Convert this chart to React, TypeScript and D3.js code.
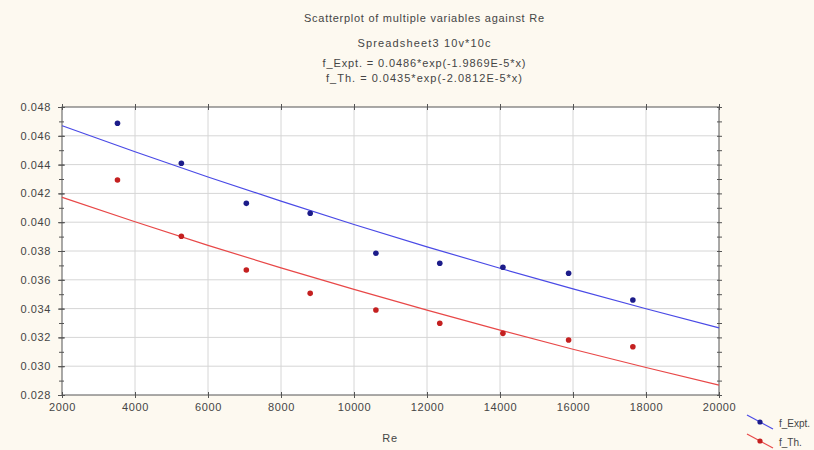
import React, { useEffect, useRef } from 'react';
import * as d3 from 'd3';

// Re values of the measured points
const re = [3520, 5270, 7050, 8800, 10600, 12350, 14080, 15880, 17640];
// measured friction factors
const fExpt = [0.04687, 0.04409, 0.04131, 0.04062, 0.03784, 0.03715, 0.03687, 0.03645, 0.0346];
const fTh = [0.04293, 0.03902, 0.03668, 0.03506, 0.0339, 0.03298, 0.03228, 0.03182, 0.03135];

// fitted curves read at the x ticks
const fitRe = [2000, 4000, 6000, 8000, 10000, 12000, 14000, 16000, 18000, 20000];
const fitExpt = [0.0467, 0.04489, 0.04314, 0.04146, 0.03984, 0.03829, 0.0368, 0.03537, 0.03399, 0.03266];
const fitTh = [0.04173, 0.04003, 0.03839, 0.03683, 0.03533, 0.03389, 0.03251, 0.03118, 0.02991, 0.02869];

const xTicks = [2000, 4000, 6000, 8000, 10000, 12000, 14000, 16000, 18000, 20000];
const yTicks = [0.028, 0.03, 0.032, 0.034, 0.036, 0.038, 0.04, 0.042, 0.044, 0.046, 0.048];

const titleLines = [
  'Scatterplot of multiple variables against Re',
  'Spreadsheet3 10v*10c',
  'f_Expt. = 0.0486*exp(-1.9869E-5*x)',
  'f_Th. = 0.0435*exp(-2.0812E-5*x)',
];
const seriesNames = ['f_Expt.', 'f_Th.'];

const App = () => {
  const ref = useRef(null);

  useEffect(() => {
    const W = 814;
    const H = 450;
    const margin = { top: 107, right: 95, bottom: 55, left: 62 };
    const width = W - margin.left - margin.right;
    const height = H - margin.top - margin.bottom;
    const font = 'Arial, "Liberation Sans", sans-serif';
    const textColor = '#454545';

    const root = d3.select(ref.current);
    root.selectAll('*').remove();

    const svg = root
      .append('svg')
      .attr('width', W)
      .attr('height', H)
      .style('display', 'block')
      .style('position', 'absolute')
      .style('left', 0)
      .style('top', 0)
      .style('font-family', font);

    svg.append('rect').attr('width', W).attr('height', H).attr('fill', '#fdf9f0');

    // titles
    const titleY = [22, 47, 67, 82];
    const titleW = [240, 133, 203, 196];
    titleLines.forEach((t, i) => {
      svg
        .append('text')
        .attr('x', 424)
        .attr('y', titleY[i])
        .attr('text-anchor', 'middle')
        .attr('font-size', 11)
        .attr('fill', textColor)
        .attr('textLength', titleW[i])
        .attr('lengthAdjust', 'spacing')
        .text(t);
    });

    const g = svg.append('g').attr('transform', `translate(${margin.left},${margin.top})`);

    const x = d3.scaleLinear().domain([2000, 20000]).range([0, width]);
    const y = d3.scaleLinear().domain([0.028, 0.048]).range([height, 0]);

    g.append('rect').attr('width', width).attr('height', height).attr('fill', '#ffffff');

    // grid
    g.append('g')
      .selectAll('line')
      .data(xTicks.slice(1, -1))
      .join('line')
      .attr('x1', (d) => x(d))
      .attr('x2', (d) => x(d))
      .attr('y1', 0)
      .attr('y2', height)
      .attr('stroke', '#d6d6d6')
      .attr('stroke-width', 1);
    g.append('g')
      .selectAll('line')
      .data(yTicks.slice(1, -1))
      .join('line')
      .attr('x1', 0)
      .attr('x2', width)
      .attr('y1', (d) => y(d))
      .attr('y2', (d) => y(d))
      .attr('stroke', '#d6d6d6')
      .attr('stroke-width', 1);

    // axes
    const minorY = d3.range(0.028, 0.0485, 0.001);
    const styleAxis = (sel) => {
      sel.select('.domain').remove();
      sel.selectAll('line').attr('stroke', '#555');
      sel.selectAll('text').attr('fill', textColor).attr('font-size', 11).attr('letter-spacing', 0.6);
    };

    g.append('g')
      .attr('transform', `translate(0,${height})`)
      .call(d3.axisBottom(x).tickValues(xTicks).tickFormat(d3.format('d')).tickSize(3).tickPadding(5))
      .call(styleAxis)
      .selectAll('line')
      .attr('y1', -3);

    g.append('g')
      .call(d3.axisLeft(y).tickValues(minorY).tickFormat('').tickSize(3))
      .call(styleAxis)
      .selectAll('line')
      .attr('x1', 2);
    g.append('g')
      .call(d3.axisLeft(y).tickValues(yTicks).tickFormat(d3.format('.3f')).tickSize(4).tickPadding(7))
      .call(styleAxis)
      .selectAll('line')
      .attr('x1', 3);

    g.append('g')
      .attr('transform', `translate(${width},0)`)
      .call(d3.axisRight(y).tickValues(minorY).tickFormat('').tickSize(3))
      .call(styleAxis)
      .selectAll('line')
      .attr('x1', -2);
    g.append('g')
      .call(d3.axisTop(x).tickValues(xTicks).tickFormat('').tickSize(3))
      .call(styleAxis)
      .selectAll('line')
      .attr('y1', 3);

    g.append('rect')
      .attr('width', width)
      .attr('height', height)
      .attr('fill', 'none')
      .attr('stroke', '#555')
      .attr('stroke-width', 1);

    svg
      .append('text')
      .attr('x', 390)
      .attr('y', 442)
      .attr('text-anchor', 'middle')
      .attr('font-size', 11)
      .attr('fill', textColor)
      .attr('letter-spacing', 0.6)
      .text('Re');

    // fitted curves
    const line = d3
      .line()
      .x((d) => x(d[0]))
      .y((d) => y(d[1]))
      .curve(d3.curveMonotoneX);

    const series = [
      { name: seriesNames[0], fit: fitExpt, pts: fExpt, lineColor: '#4a4ae6', dotColor: '#1c1c8a' },
      { name: seriesNames[1], fit: fitTh, pts: fTh, lineColor: '#e84848', dotColor: '#c42020' },
    ];

    series.forEach((s) => {
      g.append('path')
        .datum(fitRe.map((r, i) => [r, s.fit[i]]))
        .attr('fill', 'none')
        .attr('stroke', s.lineColor)
        .attr('stroke-width', 1.2)
        .attr('d', line);

      g.append('g')
        .selectAll('circle')
        .data(re.map((r, i) => [r, s.pts[i]]))
        .join('circle')
        .attr('cx', (d) => x(d[0]))
        .attr('cy', (d) => y(d[1]))
        .attr('r', 2.8)
        .attr('fill', s.dotColor);
    });

    // legend
    series.forEach((s, i) => {
      const ly = 422 + i * 19;
      const lg = svg.append('g').attr('transform', `translate(760,${ly})`);
      lg.append('line')
        .attr('x1', -13)
        .attr('y1', -7)
        .attr('x2', 13)
        .attr('y2', 7)
        .attr('stroke', s.lineColor)
        .attr('stroke-width', 1.2);
      lg.append('circle').attr('r', 2.6).attr('fill', s.dotColor);
      lg.append('text')
        .attr('x', 19)
        .attr('y', 5)
        .attr('font-size', 10)
        .attr('fill', textColor)
        .text(s.name);
    });
  }, []);

  return <div ref={ref}></div>;
};

export default App;
